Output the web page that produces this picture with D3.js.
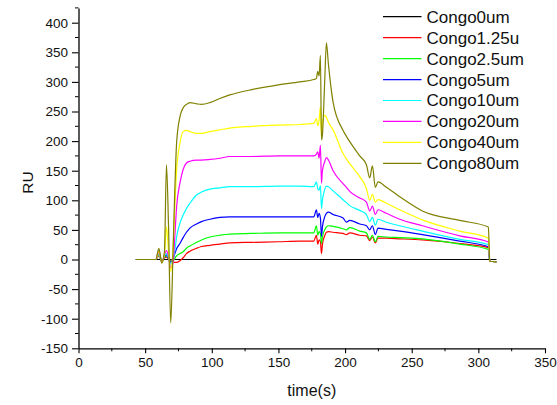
<!DOCTYPE html>
<html><head><meta charset="utf-8">
<script src="https://cdn.jsdelivr.net/npm/d3@7"></script>
<style>
html,body{margin:0;padding:0;background:#fff;}
svg{display:block;font-family:"Liberation Sans",Arial,sans-serif;}
</style></head>
<body><svg id="c" width="557" height="405"></svg>
<script>
const times = [43,58,60.3,62.5,64.5,66,67.5,69.2,71,72.3,73.6,76.1,78.5,81,83.6,88.6,92.3,98.6,106,113.5,130,150,166,176.5,178.5,179.5,180.5,181.5,182.3,183,184.7,186,187.5,191,198.5,201,203.5,211,216,218.5,220.5,222.7,224.7,231,241,258,286,307.5,308.6,313.6];

const congo0   = times.map(() => 0);
const congo1_25 = [0,0,6,-3,3,4,1,-2,-4,-5,-5,-2,3,10,14,19,22,24,26,28,29,30,31,31,41,26,33,30,10,25,40,46,47,46,44,42,45,41,40,32,38,28,36,36,35,33,27,20,-3,-4];
const congo2_5 = [0,0,8,-3,4,6,2,-3,-3,2,6,10,13,19,23,29,33,38,41,43,44,45,45,45,57,41,47,44,27,38,50,55,57,56,52,50,54,48,45,34,41,30,39,38,37,35,26,17,-3,-4];
const congo5   = [0,0,15,-4,5,8,2,-5,2,10,18,27,37,46,53,60,64,68,71,72,72,72,72,72,84,71,78,70,39,55,72,78,80,76,70,63,66,60,57,50,57,42,53,51,48,42,31,21.6,-3,-4];
const congo10  = [0,0,10,-5,6,10,3,-8,0,15,38,61,75,86,95,109,114,119,121,123,123,124,124,123,131,120,117,125,86,100,118,124,123,116,101,96,91,83,76,64,71,58,68,63,57,48,34,25,-3,-4];
const congo20  = [0,0,12,-5,8,15,5,-14,-5,40,89,129,152,163,166,168,168,169,171,174,174,175,175,175,178,182,171,193,129,150,165,172,168,150,128,122,115,104,97,82,90,76,84,78,68,57,40,29.5,-3,-4];
const congo40  = [0,0,14,-5,10,55,15,-20,22,90,151,196,216,218,216,213,213,216,219,222,225,227,228,230,238,226,235,258,205,230,244,240,232,219,179,170,162,140,120,100,110,97,101,95,84,67,48,36,-3,-4];
const congo80  = [0,0,19,-6,14,160,60,-107,20,120,197,241,256,262,265,263,262,265,272,278,287,295,300,304,306,318,310,345,202,210,300,366,330,266,218,208,199,175,160,138,158,122,131,122,106,82,66,55,-3,-4];

const seriesNames = ["Congo0um","Congo1.25u","Congo2.5um","Congo5um","Congo10um","Congo20um","Congo40um","Congo80um"];
const seriesColors = ["#000000","#ff0000","#00ff00","#0000ff","#00ffff","#ff00ff","#ffff00","#808000"];
const seriesValues = [congo0,congo1_25,congo2_5,congo5,congo10,congo20,congo40,congo80];

const xTicks = [0,50,100,150,200,250,300,350];
const yTicks = [-150,-100,-50,0,50,100,150,200,250,300,350,400];
const xTitle = "time(s)", yTitle = "RU";

const svg = d3.select("#c");
const x = d3.scaleLinear().domain([0,350]).range([78.5,545]);
const y = d3.scaleLinear().domain([-150,425]).range([348.3,7.9]);

// minor ticks
const g = svg.append("g");
const xMinor = d3.range(25,350,50);
const yMinor = d3.range(-125,426,50);
g.selectAll(".xm").data(xMinor).enter().append("line")
  .attr("x1",d=>x(d)).attr("x2",d=>x(d)).attr("y1",y(-150)).attr("y2",y(-150)+3)
  .attr("stroke","#000").attr("stroke-width",1);
g.selectAll(".ym").data(yMinor).enter().append("line")
  .attr("y1",d=>y(d)).attr("y2",d=>y(d)).attr("x1",x(0)).attr("x2",x(0)-3.5)
  .attr("stroke","#000").attr("stroke-width",1);

const fmt = d => String(d);
const xAxis = svg.append("g").attr("transform",`translate(0,${y(-150)})`)
  .call(d3.axisBottom(x).tickValues(xTicks).tickFormat(fmt).tickSize(5).tickPadding(4).tickSizeOuter(0));
const yAxis = svg.append("g").attr("transform",`translate(${x(0)},0)`)
  .call(d3.axisLeft(y).tickValues(yTicks).tickFormat(fmt).tickSize(6.5).tickPadding(4).tickSizeOuter(0));
[xAxis,yAxis].forEach(a=>{
  a.select(".domain").attr("stroke","#000").attr("stroke-width",1.3);
  a.selectAll(".tick line").attr("stroke","#000").attr("stroke-width",1.1);
  a.selectAll(".tick text").attr("font-size","13.5px").attr("fill","#111")
    .attr("font-family","'Liberation Sans',Arial,sans-serif");
});

const line = d3.line().x((d,i)=>x(times[i])).y(d=>y(d)).curve(d3.curveMonotoneX);
const plot = svg.append("g");
seriesValues.forEach((vals,k)=>{
  plot.append("path").datum(vals).attr("d",line)
    .attr("fill","none").attr("stroke",seriesColors[k]).attr("stroke-width",1.2);
});

// legend
const leg = svg.append("g");
seriesNames.forEach((n,k)=>{
  const yy = 16.7 + k*20.95;
  leg.append("line").attr("x1",383).attr("x2",421.5).attr("y1",yy).attr("y2",yy)
    .attr("stroke",seriesColors[k]).attr("stroke-width",1.2);
  leg.append("text").attr("x",426.5).attr("y",yy).attr("dy","0.35em")
    .attr("font-size","17px").attr("fill","#111").text(n);
});

svg.append("text").attr("x",311.8).attr("y",396).attr("text-anchor","middle")
  .attr("font-size","16px").attr("fill","#111").text(xTitle);
svg.append("text").attr("transform","translate(33,182.5) rotate(-90)").attr("text-anchor","middle")
  .attr("font-size","15.5px").attr("fill","#111").text(yTitle);
</script></body></html>
